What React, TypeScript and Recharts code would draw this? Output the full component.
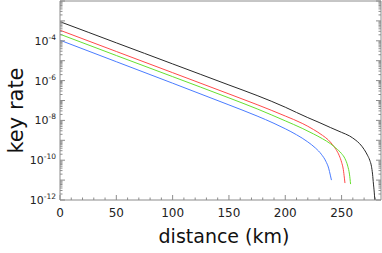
import { LineChart, Line, XAxis, YAxis } from 'recharts';

const FONT = '"DejaVu Sans", Verdana, sans-serif';
const AXIS = '#8c8c8c';

// distance (km) and key rate
const blackKm = [0, 25, 50, 75, 100, 125, 150, 175, 200, 210, 220, 230, 240, 250, 257, 262, 266, 270, 273, 275, 276.5, 277.5, 278.3, 279, 279.5];
const blackRate = [9.1e-4, 2.69e-4, 7.9e-5, 2.34e-5, 6.9e-6, 2.04e-6, 6.0e-7, 1.78e-7, 4.6e-8, 2.5e-8, 1.38e-8, 7.9e-9, 4.4e-9, 2.5e-9, 1.66e-9, 1.07e-9, 6.8e-10, 3.5e-10, 1.78e-10, 1.0e-10, 5.0e-11, 2.0e-11, 6.3e-12, 2.5e-12, 1.0e-12];

const redKm = [0, 50, 100, 150, 175, 200, 215, 225, 233, 238, 242, 245, 248, 250, 251.5, 252.5, 253];
const redRate = [3.4e-4, 2.9e-5, 2.5e-6, 2.14e-7, 6.2e-8, 1.66e-8, 7.1e-9, 3.5e-9, 1.78e-9, 1.07e-9, 6.0e-10, 3.5e-10, 1.66e-10, 7.9e-11, 3.5e-11, 1.26e-11, 7.1e-12];

const greenKm = [0, 50, 100, 150, 175, 200, 215, 225, 233, 240, 245, 250, 253, 255.5, 257, 258];
const greenRate = [2.14e-4, 1.82e-5, 1.58e-6, 1.35e-7, 3.8e-8, 9.5e-9, 4.0e-9, 2.1e-9, 1.2e-9, 6.8e-10, 4.0e-10, 2.14e-10, 1.2e-10, 5.0e-11, 2.0e-11, 6.3e-12];

const blueKm = [0, 50, 100, 150, 175, 190, 200, 210, 220, 227, 232, 236, 238.5, 240, 241];
const blueRate = [1.07e-4, 8.9e-6, 7.4e-7, 6.0e-8, 1.66e-8, 7.1e-9, 3.8e-9, 1.9e-9, 8.3e-10, 4.0e-10, 2.0e-10, 8.9e-11, 4.0e-11, 1.78e-11, 1.0e-11];

const xTickValues = [0, 10, 20, 30, 40, 50, 60, 70, 80, 90, 100, 110, 120, 130, 140, 150, 160, 170, 180, 190, 200, 210, 220, 230, 240, 250, 260, 270, 280];
const xLabelValues = [0, 50, 100, 150, 200, 250];
const yDecades = [-12, -11, -10, -9, -8, -7, -6, -5, -4, -3];
const yLabelDecades = [-12, -10, -8, -6, -4];
const yTickValues = [...yDecades.flatMap((e) => [1, 2, 3, 4, 5, 6, 7, 8, 9].map((m) => m * Math.pow(10, e))), 1e-2];

const toPoints = (km: number[], rate: number[]) => km.map((d, i) => ({ d, r: rate[i] }));

const decadeOf = (v: number) => {
  const lg = Math.log10(v);
  const e = Math.round(lg);
  return Math.abs(lg - e) < 1e-6 ? e : null;
};

const LeftTick = (p: any) => {
  const { x, y, payload } = p;
  const e = decadeOf(payload.value);
  const ax = x + 4;
  return (
    <g>
      <line x1={ax} y1={y} x2={ax + (e !== null ? 5 : 2.5)} y2={y} stroke={AXIS} />
      {e !== null && yLabelDecades.includes(e) && (
        <text x={x} y={y + 4} textAnchor="end" fontSize={11} fill="#222" fontFamily={FONT}>
          10<tspan dy={-5} fontSize={7.5}>{`-${-e}`}</tspan>
        </text>
      )}
    </g>
  );
};

const RightTick = (p: any) => {
  const { x, y, payload } = p;
  const e = decadeOf(payload.value);
  return <line x1={x} y1={y} x2={x - (e !== null ? 5 : 2.5)} y2={y} stroke={AXIS} />;
};

const BottomTick = (p: any) => {
  const { x, y, payload } = p;
  const major = xLabelValues.includes(payload.value);
  return (
    <g>
      <line x1={x} y1={y} x2={x} y2={y - (major ? 5 : 2.5)} stroke={AXIS} />
      {major && (
        <text x={x} y={y + 17} textAnchor="middle" fontSize={12} fill="#222" fontFamily={FONT}>
          {payload.value}
        </text>
      )}
    </g>
  );
};

const TopTick = (p: any) => {
  const { x, y, payload } = p;
  const major = xLabelValues.includes(payload.value);
  return <line x1={x} y1={y} x2={x} y2={y + (major ? 5 : 2.5)} stroke={AXIS} />;
};

const YTitle = (p: any) => {
  const vb = p.viewBox;
  const cx = vb.x + 23;
  const cy = vb.y + vb.height / 2 + 10;
  return (
    <text x={cx} y={cy} transform={`rotate(-90 ${cx} ${cy})`} textAnchor="middle" fontSize={21} fill="#111" fontFamily={FONT}>
      key rate
    </text>
  );
};

const XTitle = (p: any) => {
  const vb = p.viewBox;
  return (
    <text x={vb.x + vb.width / 2 + 3.5} y={vb.y + 43} textAnchor="middle" fontSize={19} fill="#111" fontFamily={FONT}>
      distance (km)
    </text>
  );
};

export default function App() {
  const xDomain: [number, number] = [0, 285];
  const yDomain: [number, number] = [1e-12, 1e-2];
  return (
    <div style={{ position: 'absolute', left: 0, top: 0, background: '#fff', fontFamily: FONT }}>
      <LineChart width={382} height={253} margin={{ top: 0, right: 0, bottom: 0, left: 0 }}>
        <XAxis
          xAxisId="b"
          type="number"
          dataKey="d"
          domain={xDomain}
          allowDataOverflow
          ticks={xTickValues}
          interval={0}
          tickSize={0}
          tickMargin={0}
          tickLine={false}
          tick={BottomTick}
          height={53}
          axisLine={{ stroke: AXIS }}
          label={XTitle}
        />
        <XAxis
          xAxisId="t"
          orientation="top"
          type="number"
          domain={xDomain}
          allowDataOverflow
          ticks={xTickValues}
          interval={0}
          tickSize={0}
          tickMargin={0}
          tickLine={false}
          tick={TopTick}
          height={1}
          axisLine={{ stroke: AXIS }}
        />
        <YAxis
          yAxisId="l"
          type="number"
          scale="log"
          domain={yDomain}
          allowDataOverflow
          ticks={yTickValues}
          interval={0}
          tickSize={0}
          tickMargin={4}
          tickLine={false}
          tick={LeftTick}
          width={60}
          axisLine={{ stroke: AXIS }}
          label={YTitle}
        />
        <YAxis
          yAxisId="r"
          orientation="right"
          type="number"
          scale="log"
          domain={yDomain}
          allowDataOverflow
          ticks={yTickValues}
          interval={0}
          tickSize={0}
          tickMargin={0}
          tickLine={false}
          tick={RightTick}
          width={1}
          axisLine={{ stroke: AXIS }}
        />
        <Line xAxisId="b" yAxisId="l" data={toPoints(blackKm, blackRate)} dataKey="r" type="monotone" stroke="#2a2a2a" strokeWidth={1} dot={false} isAnimationActive={false} />
        <Line xAxisId="b" yAxisId="l" data={toPoints(redKm, redRate)} dataKey="r" type="monotone" stroke="#ff4a4a" strokeWidth={1} dot={false} isAnimationActive={false} />
        <Line xAxisId="b" yAxisId="l" data={toPoints(greenKm, greenRate)} dataKey="r" type="monotone" stroke="#66e030" strokeWidth={1} dot={false} isAnimationActive={false} />
        <Line xAxisId="b" yAxisId="l" data={toPoints(blueKm, blueRate)} dataKey="r" type="monotone" stroke="#4a7cff" strokeWidth={1} dot={false} isAnimationActive={false} />
      </LineChart>
    </div>
  );
}
